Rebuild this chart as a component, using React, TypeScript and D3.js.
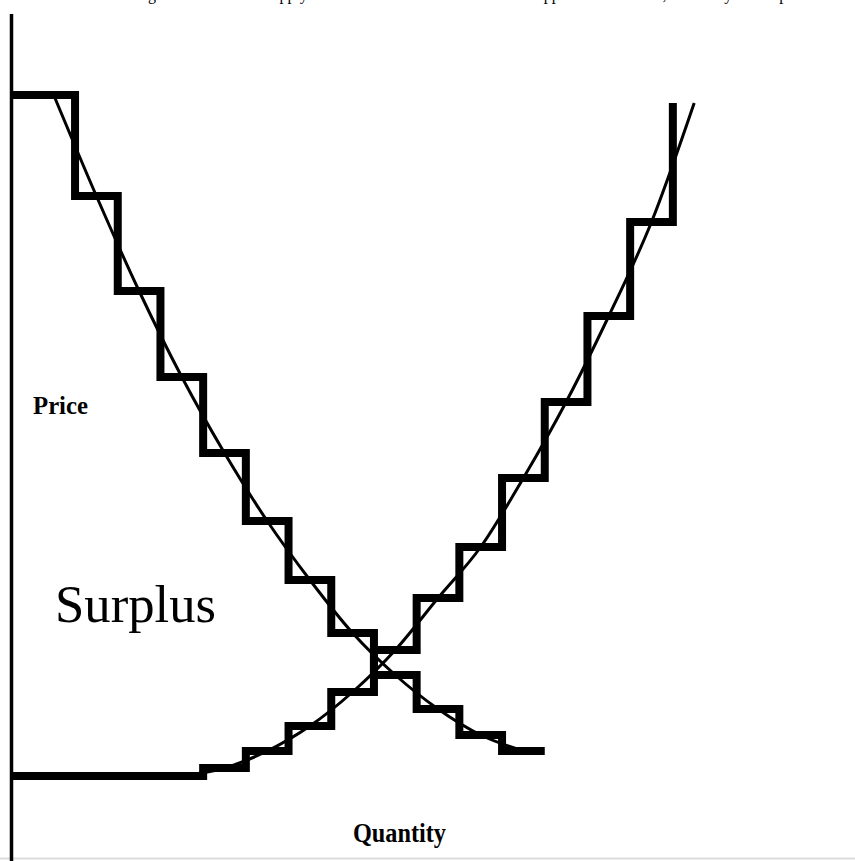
import * as d3 from "d3";

// step schedules: quantity where each step starts, price of that step
const demandQty = [0, 1.5, 2.5, 3.5, 4.5, 5.5, 6.5, 7.5, 8.5, 9.5, 10.5, 11.5, 12.5];
const demandPrice = [72.1, 62, 52.5, 43.9, 36.3, 29.5, 23.6, 18.3, 14.1, 10.7, 8.1, 6.5, 6.5];
const supplyQty = [0, 4.5, 5.5, 6.5, 7.5, 8.5, 9.5, 10.5, 11.5, 12.5, 13.5, 14.5, 15.5];
const supplyPrice = [4, 4.8, 6.5, 9, 12.4, 16.6, 21.8, 26.9, 33.8, 41.4, 50, 59.4, 71.3];

// smooth curves drawn through the steps
const demandCurveQty = [1, 2, 3, 4, 5, 6, 7, 8, 9, 10, 11, 12];
const demandCurvePrice = [72.1, 62, 52.5, 43.9, 36.3, 29.5, 23.6, 18.3, 14.1, 10.7, 8.1, 6.5];
const supplyCurveQty = [4, 5, 6, 7, 8, 9, 10, 11, 12, 13, 14, 15, 16];
const supplyCurvePrice = [4, 4.8, 6.5, 9, 12.4, 16.6, 21.8, 26.9, 33.8, 41.4, 50, 59.4, 71.3];

const title =
  "A chart showing the demand and supply/cost in small discrete units and the approximate curves, shown by the surplus";

const W = 855;
const H = 861;

export default function App() {
  const x = d3.scaleLinear().domain([0, 20]).range([11, 11 + 20 * 42.7]);
  const y = d3.scaleLinear().domain([0, 80]).range([816, 16]);

  const zip = (qs: number[], ps: number[]) => qs.map((q, i) => [q, ps[i]] as [number, number]);

  const stepLine = d3
    .line<[number, number]>()
    .x((d) => x(d[0]))
    .y((d) => y(d[1]))
    .curve(d3.curveStepAfter);
  const smoothLine = d3
    .line<[number, number]>()
    .x((d) => x(d[0]))
    .y((d) => y(d[1]))
    .curve(d3.curveMonotoneX);

  const font = "'Liberation Serif', 'Times New Roman', serif";

  return (
    <svg
      width={W}
      height={H}
      style={{ position: "absolute", left: 0, top: 0, background: "#fff" }}
    >
      {/* caption sits above the frame, only its descenders show */}
      <text x={51} y={0} fontFamily={font} fontSize={16} fill="#000">
        {title}
      </text>
      <line x1={0} x2={W} y1={858.5} y2={858.5} stroke="#dcdcdc" strokeWidth={2} />
      <line x1={x(0) + 0.5} x2={x(0) + 0.5} y1={14} y2={H} stroke="#000" strokeWidth={3.5} />

      <path d={smoothLine(zip(demandCurveQty, demandCurvePrice)) || ""} fill="none" stroke="#000" strokeWidth={3} />
      <path d={smoothLine(zip(supplyCurveQty, supplyCurvePrice)) || ""} fill="none" stroke="#000" strokeWidth={3} />
      <path
        d={stepLine(zip(demandQty, demandPrice)) || ""}
        fill="none"
        stroke="#000"
        strokeWidth={8}
        strokeLinejoin="miter"
      />
      <path
        d={stepLine(zip(supplyQty, supplyPrice)) || ""}
        fill="none"
        stroke="#000"
        strokeWidth={8}
        strokeLinejoin="miter"
      />

      <text x={33} y={414} fontFamily={font} fontWeight="bold" fontSize={25} textLength={55} lengthAdjust="spacingAndGlyphs">
        Price
      </text>
      <text x={55} y={622} fontFamily={font} fontSize={53} textLength={161} lengthAdjust="spacingAndGlyphs">
        Surplus
      </text>
      <text x={353} y={842} fontFamily={font} fontWeight="bold" fontSize={27} textLength={93} lengthAdjust="spacingAndGlyphs">
        Quantity
      </text>
    </svg>
  );
}
